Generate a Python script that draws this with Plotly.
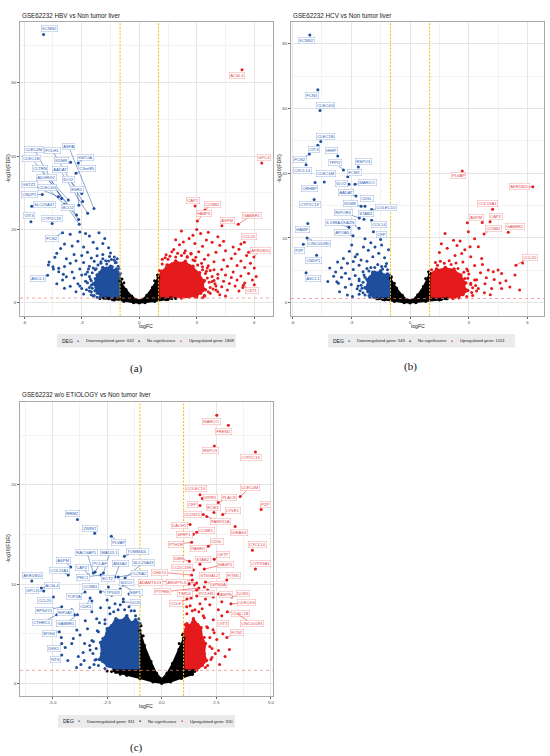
import math
import plotly.graph_objects as go

W, H = 550, 756
FONT = "Liberation Sans, Arial, sans-serif"
LFC_CUT = 1.0
FDR_CUT = 0.05

BLUE = "#1f4e9c"
RED = "#e41a1c"
BLACK = "#000000"

# ---------------- (a) GSE62232 HBV vs Non tumor liver ----------------
a_title = "GSE62232 HBV vs Non tumor liver"
a_n_down, a_n_up = 632, 1808
a_xticks = [-6, -3, 0, 3, 6]
a_xticktext = ["-6", "-3", "0", "3", "6"]
a_yticks = [0, 20, 40, 60]

a_down_pts = [(-3.1, 19.3), (-2.8, 18.9), (-2.6, 18.2), (-2.1, 19.1), (-1.8, 17.5), (-1.9, 16.2),
              (-3.6, 18.7), (-3.9, 16.0), (-4.1, 14.8), (-4.3, 13.5), (-3.5, 15.5), (-3.2, 16.8),
              (-2.9, 15.2), (-2.4, 16.5), (-2.2, 14.8), (-1.6, 15.0), (-1.5, 13.6), (-2.7, 13.8),
              (-3.0, 12.9), (-3.4, 13.2), (-3.8, 12.0), (-4.5, 9.8), (-4.2, 8.5), (-3.9, 9.9),
              (-3.6, 10.8), (-3.3, 11.5), (-2.9, 11.0), (-2.5, 12.2), (-2.2, 12.8), (-1.9, 13.2),
              (-1.3, 12.5), (-1.2, 11.0), (-2.6, 10.0), (-3.1, 9.2), (-3.5, 8.4), (-3.8, 7.1),
              (-4.0, 6.2), (-3.4, 6.8), (-3.0, 7.6), (-2.7, 8.4), (-2.4, 9.5), (-2.8, 5.9),
              (-3.2, 5.2), (-3.6, 4.5), (-2.5, 4.8), (-2.6, 3.2), (-3.0, 3.9), (-2.2, 2.6),
              (-2.0, 2.0), (-1.9, 1.6), (-2.4, 1.9), (-1.4, 1.5), (-3.3, 3.0), (-4.74, 10.3),
              (-4.48, 9.2), (-4.7, 11.1), (-3.96, 7.8), (-4.4, 12.4), (-2.3, 6.6), (-2.0, 7.8),
              (-1.7, 10.6), (-1.4, 9.8), (-3.9, 4.0), (-4.3, 5.2), (-4.2, 9.4), (-2.5, 6.0),
              (-2.45, 4.0), (-2.3, 9.0), (-2.0, 10.8), (-1.6, 11.4), (-1.1, 10.0), (-2.6, 7.2),
              (-2.5, 2.2), (-1.8, 1.5),
              (-2.55, 6.5), (-2.6, 4.2), (-2.5, 3.0), (-2.35, 2.0), (-2.2, 1.5), (-2.45, 8.2),
              (-2.25, 9.3), (-2.0, 11.2), (-1.75, 11.5), (-1.45, 11.8), (-1.25, 10.9), (-1.05, 9.3),
              (-2.7, 5.5), (-2.75, 3.6), (-2.8, 7.8), (-2.15, 10.3), (-1.9, 12.0), (-1.15, 12.0),
              (-2.9, 2.4), (-3.1, 4.6), (-2.65, 9.2), (-2.35, 11.3), (-1.55, 12.6), (-2.05, 1.6),
              (-1.3, 11.6)]
a_up_pts = [(2.2, 19.6), (3.0, 20.0), (3.2, 18.9), (4.1, 18.0), (3.5, 17.1), (4.9, 15.2), (4.2, 15.7),
            (5.0, 13.4), (5.6, 12.9), (6.0, 9.5), (5.9, 6.2), (5.1, 6.2), (4.7, 5.3), (4.4, 5.9),
            (2.6, 17.5), (2.9, 16.2), (3.8, 16.5), (3.3, 15.4), (4.5, 14.2), (4.0, 13.8), (3.6, 13.0),
            (4.8, 12.1), (5.3, 11.4), (4.4, 11.7), (3.9, 11.2), (5.1, 10.2), (4.6, 10.0), (5.5, 9.6),
            (4.3, 9.1), (4.9, 8.4), (5.7, 8.0), (5.3, 7.3), (4.5, 7.6), (4.1, 6.7), (4.8, 6.9),
            (5.5, 5.4), (5.0, 4.6), (4.3, 4.4), (4.6, 3.5), (5.2, 3.2), (4.0, 3.5), (3.7, 2.6),
            (4.2, 2.2), (3.4, 2.1), (4.5, 1.9), (2.9, 1.6), (1.5, 1.6), (1.8, 14.5), (2.1, 15.8),
            (2.4, 14.2), (1.4, 13.1), (1.2, 11.9), (1.6, 12.7), (2.7, 13.3), (3.1, 13.9), (3.4, 11.9),
            (3.6, 10.1), (3.9, 9.0), (4.1, 7.8), (3.8, 5.8), (4.0, 4.6), (3.5, 8.6), (3.3, 9.8),
            (2.9, 11.5), (2.5, 12.4), (2.0, 13.5), (5.8, 10.8), (6.1, 7.2), (5.4, 4.2), (6.0, 4.9),
            (1.9, 17.2), (2.3, 16.6), (2.8, 18.4), (3.6, 19.2), (4.4, 16.8), (5.2, 14.6), (5.7, 13.8),
            (5.3, 16.0),
            (3.6, 3.0), (3.7, 4.2), (3.65, 5.6), (3.55, 6.8), (3.45, 8.0), (3.3, 9.0), (3.05, 10.3),
            (2.8, 11.7), (2.5, 12.6), (2.2, 12.9), (1.9, 12.5), (1.5, 11.9), (1.2, 10.6), (1.05, 8.8),
            (3.8, 7.2), (3.9, 6.1), (3.85, 3.8), (3.4, 1.8), (3.0, 1.5), (2.7, 13.5), (2.35, 13.6),
            (1.7, 13.9), (3.25, 10.8), (3.55, 9.5), (3.95, 5.2), (4.1, 3.0), (3.3, 1.4), (1.35, 12.3),
            (2.95, 12.4), (3.7, 8.8)]
a_ns_pts = [(-1.6, 1.1), (-2.05, 1.2), (1.7, 1.2), (1.5, 0.9), (-1.3, 0.8), (-0.9, 6.5),
            (0.95, 7.6), (0.8, 6.0), (-0.8, 5.5), (-1.85, 1.25), (1.9, 1.2)]
# outlines of the solid, over-plotted clouds
a_down_core = [(-1.0, 1.35), (-1.0, 8.0), (-1.2, 9.2), (-1.35, 8.8), (-1.5, 10.0), (-1.7, 9.4),
               (-1.9, 9.6), (-2.05, 8.3), (-2.2, 7.6), (-2.25, 6.0), (-2.4, 5.2), (-2.25, 4.2),
               (-2.3, 3.3), (-2.1, 2.6), (-2.0, 1.8), (-1.7, 1.35)]
a_up_core = [(1.0, 1.35), (1.0, 7.0), (1.15, 8.6), (1.3, 8.9), (1.45, 10.3), (1.7, 10.6), (1.9, 11.4),
             (2.15, 10.8), (2.4, 11.3), (2.6, 10.2), (2.8, 10.0), (2.95, 8.6), (3.15, 8.2), (3.2, 6.8),
             (3.4, 6.0), (3.3, 4.6), (3.45, 3.6), (3.2, 2.6), (3.0, 2.0), (2.6, 1.6), (2.2, 1.35)]
a_ns_core = [(-1.0, 6.0), (-0.7, 3.6), (-0.4, 1.8), (-0.15, 0.8), (0.0, 0.6), (0.15, 0.8), (0.4, 2.0),
             (0.7, 4.2), (1.0, 7.0), (1.0, 1.3), (1.65, 1.3), (1.4, 0.9), (0.8, 0.45), (0.3, 0.1),
             (0.0, 0.0), (-0.3, 0.1), (-0.8, 0.45), (-1.4, 0.9), (-1.75, 1.3), (-1.0, 1.3)]
a_down_genes = {"KCNN2": (-4.99, 73.1), "CLEC4M": (-4.05, 28.4), "FOLH1": (-2.95, 27.6),
                "ASPA": (-2.36, 25.7), "KMT2A": (-3.18, 38.1), "KDM8": (-3.58, 38.3),
                "CLEC1B": (-3.70, 28.0), "C3orf85": (-3.30, 35.3), "CLTRN": (-3.27, 23.9),
                "AADAT": (-2.69, 24.4), "ADGRG7": (-3.16, 22.7), "IDO2": (-3.00, 29.8),
                "GSTZ1": (-4.22, 28.9), "CLEC4G": (-3.90, 26.8), "ESR1": (-3.15, 26.6),
                "CNDP1": (-5.06, 29.5), "SLC25A47": (-5.61, 26.3), "BCO2": (-3.13, 21.4),
                "OIT3": (-5.65, 22.1), "CYP2C19": (-4.54, 21.6), "FCN2": (-4.00, 19.1),
                "ASCL1": (-4.78, 7.5)}
a_up_genes = {"ACSL4": (5.36, 63.5), "GPC3": (6.39, 38.1), "CAP2": (2.91, 26.4), "CCNB1": (3.43, 25.3),
              "FABP5": (3.03, 22.3), "ASPM": (4.31, 21.0), "GABBR1": (5.16, 21.4), "CCL20": (5.48, 16.5),
              "AKR1B10": (5.98, 12.5), "CST1": (5.43, 4.8)}

# ---------------- (b) GSE62232 HCV vs Non tumor liver ----------------
b_title = "GSE62232 HCV vs Non tumor liver"
b_n_down, b_n_up = 545, 1113
b_xticks = [-6, -3, 0, 3, 6]
b_xticktext = ["-6", "-3", "0", "3", "6"]
b_yticks = [0, 20, 40, 60, 80]

b_down_pts = [(-3.4, 13.7), (-3.74, 6.5), (-3.66, 6.0), (-2.94, 1.9), (-2.98, 17.8), (-2.38, 17.2),
              (-2.13, 16.2), (-1.79, 17.2), (-1.45, 17.8), (-3.1, 15.9), (-2.7, 15.0), (-2.5, 13.2),
              (-3.2, 12.2), (-3.5, 10.8), (-3.8, 9.5), (-3.3, 9.1), (-2.9, 10.3), (-2.6, 11.6),
              (-2.2, 12.8), (-1.9, 14.2), (-1.6, 15.3), (-1.3, 13.9), (-1.2, 12.1), (-2.0, 10.9),
              (-2.4, 9.6), (-2.8, 8.4), (-3.1, 7.4), (-3.5, 7.9), (-3.9, 8.2), (-3.0, 5.6),
              (-2.6, 6.8), (-2.3, 7.9), (-2.7, 4.3), (-3.3, 4.8), (-3.6, 3.4), (-2.4, 3.1),
              (-2.1, 2.2), (-1.6, 1.6), (-2.5, 5.4), (-4.1, 10.7), (-3.7, 12.6), (-2.8, 14.2),
              (-2.0, 18.5), (-1.5, 19.5), (-2.3, 19.8), (-4.2, 6.6), (-1.8, 9.5), (-1.4, 10.4),
              (-1.1, 16.4), (-2.6, 2.6), (-3.2, 2.4), (-2.9, 12.7),
              (-2.45, 4.5), (-2.4, 6.3), (-2.35, 8.6), (-2.1, 9.8), (-1.8, 10.9), (-1.45, 11.2),
              (-1.15, 10.2), (-1.05, 8.6), (-2.3, 2.4), (-2.05, 1.6), (-2.6, 7.3), (-2.55, 3.7),
              (-1.65, 11.8), (-2.2, 10.6), (-1.25, 11.3), (-2.65, 5.2)]
b_up_pts = [(1.79, 21.4), (2.22, 19.3), (2.56, 19.1), (2.93, 24.7), (2.98, 21.9), (3.07, 17.3),
            (3.49, 17.3), (2.64, 15.2), (3.66, 13.7), (4.0, 10.1), (4.25, 9.6), (4.5, 10.1),
            (4.68, 9.0), (5.36, 8.6), (5.1, 4.9), (4.68, 4.4), (4.17, 4.4), (3.83, 5.9), (3.49, 4.4),
            (1.5, 15.5), (1.9, 16.8), (2.3, 14.6), (2.0, 13.0), (2.7, 12.6), (3.1, 14.2), (3.3, 11.5),
            (2.9, 10.4), (3.6, 9.3), (3.9, 7.7), (3.4, 7.1), (3.7, 11.8), (4.3, 7.2), (4.6, 6.1),
            (3.1, 5.6), (2.7, 2.5), (3.2, 2.2), (3.8, 3.1), (4.1, 2.5), (1.3, 12.4), (1.6, 18.2),
            (2.4, 17.7), (2.8, 16.4), (3.3, 19.8), (2.5, 8.7), (2.8, 7.5), (3.0, 8.9), (1.8, 2.0),
            (2.3, 1.6), (4.9, 6.8), (5.6, 3.9), (5.75, 12.3),
            (3.15, 3.2), (3.2, 4.6), (3.1, 6.0), (2.95, 7.6), (2.75, 9.4), (2.45, 10.6), (2.1, 11.8),
            (1.75, 12.2), (1.4, 11.6), (1.1, 10.2), (2.9, 1.9), (2.5, 1.5), (3.35, 5.3), (3.3, 7.0),
            (2.95, 9.9), (2.35, 12.3), (1.55, 12.8), (3.4, 3.6)]
b_ns_pts = [(-1.7, 1.2), (1.9, 1.2), (1.6, 1.0), (-1.4, 1.0), (-0.95, 8.0), (0.95, 9.6), (0.8, 7.5),
            (-0.8, 6.0)]
b_down_core = [(-1.0, 1.35), (-1.0, 7.5), (-1.15, 8.9), (-1.35, 8.6), (-1.5, 9.9), (-1.7, 9.2),
               (-1.9, 9.4), (-2.05, 7.9), (-2.2, 7.2), (-2.15, 5.6), (-2.3, 4.6), (-2.15, 3.4),
               (-2.0, 2.4), (-1.85, 1.7), (-1.6, 1.35)]
b_up_core = [(1.0, 1.35), (1.0, 9.0), (1.2, 9.3), (1.35, 10.4), (1.6, 10.1), (1.8, 10.9), (2.05, 10.2),
             (2.25, 10.4), (2.45, 8.9), (2.6, 8.6), (2.7, 7.0), (2.85, 6.1), (2.75, 4.9), (2.95, 3.8),
             (2.7, 2.6), (2.5, 2.0), (2.2, 1.35)]
b_ns_core = [(-1.0, 7.5), (-0.7, 4.5), (-0.4, 2.2), (-0.15, 0.9), (0.0, 0.6), (0.15, 0.9), (0.4, 2.4),
             (0.7, 5.0), (1.0, 9.0), (1.0, 1.3), (1.8, 1.3), (1.5, 0.9), (0.8, 0.45), (0.3, 0.1),
             (0.0, 0.0), (-0.3, 0.1), (-0.8, 0.45), (-1.3, 0.9), (-1.6, 1.3), (-1.0, 1.3)]
b_down_genes = {"KCNN2": (-5.12, 82.7), "FCN3": (-4.71, 65.8), "CLEC4G": (-4.60, 59.4),
                "CLEC1B": (-4.56, 49.8), "OIT3": (-4.71, 48.6), "HHIP": (-3.69, 45.3),
                "FCN2": (-5.14, 45.9), "TFPI2": (-3.40, 41.0), "RSPO3": (-2.64, 41.9),
                "CXCL14": (-5.31, 42.6), "CLEC4M": (-4.38, 37.3), "ECM1": (-3.18, 38.9),
                "CRHBP": (-4.85, 37.1), "IDO2": (-3.12, 36.6), "MARCO": (-2.81, 36.6),
                "AADAT": (-2.76, 33.0), "CYP2C19": (-4.90, 31.9), "KDM8": (-2.50, 29.8),
                "CD5L": (-2.30, 29.8), "COLEC10": (-1.96, 28.8), "RIPOR3": (-2.59, 26.2),
                "STAB2": (-2.35, 25.8), "IL13RA2": (-3.12, 23.3), "KAZN": (-2.60, 23.0),
                "COL14": (-1.96, 25.5), "HAMP": (-5.22, 24.5), "APOA5": (-2.91, 20.7),
                "CFP": (-1.87, 21.9), "LINC01090": (-5.26, 20.0), "PZP": (-5.45, 18.1),
                "CNDP1": (-4.77, 14.7), "ASCL1": (-5.31, 9.3)}
b_up_genes = {"PLVAP": (2.67, 40.7), "AKR1B10": (6.27, 35.8), "COL15A1": (4.22, 28.9),
              "ASPM": (3.69, 24.8), "CAP2": (4.09, 25.0), "CCNB2": (3.78, 21.2),
              "GABBR1": (5.02, 21.8), "CCL20": (5.41, 11.6)}

# ---------------- (c) GSE62232 w/o ETIOLOGY vs Non tumor liver ----------------
c_title = "GSE62232 w/o ETIOLOGY vs Non tumor liver"
c_n_down, c_n_up = 911, 320
c_xticks = [-5.0, -2.5, 0.0, 2.5, 5.0]
c_xticktext = ["-5.0", "-2.5", "0.0", "2.5", "5.0"]
c_yticks = [0, 10, 20]

c_down_pts = [(-3.89, 5.37), (-3.74, 4.87), (-4.05, 4.5), (-4.12, 4.0), (-4.42, 3.6), (-3.7, 1.9),
              (-3.82, 2.7), (-3.53, 4.0), (-2.98, 6.5), (-2.37, 7.0), (-2.14, 8.0), (-1.76, 8.5),
              (-2.14, 6.2), (-2.6, 6.0), (-2.9, 5.2), (-3.13, 4.2), (-3.28, 3.35), (-3.06, 2.35),
              (-4.6, 4.6), (-4.3, 2.3), (-3.5, 6.3), (-3.2, 7.2), (-2.8, 7.6), (-2.5, 8.4),
              (-1.9, 9.5), (-1.5, 9.0), (-1.3, 8.2), (-2.0, 7.4), (-3.4, 5.5), (-2.7, 4.5),
              (-3.0, 3.5), (-2.6, 2.8), (-2.9, 1.8), (-3.3, 1.6), (-2.4, 1.7), (-3.6, 3.1),
              (-4.0, 6.9), (-4.3, 6.0), (-3.2, 8.3), (-2.3, 8.9), (-1.6, 10.0), (-2.8, 9.2),
              (-3.6, 7.6), (-1.4, 7.3), (-1.2, 6.8), (-2.7, 2.2), (-3.55, 2.3), (-3.9, 1.6),
              (-3.15, 3.0), (-3.2, 4.3), (-2.95, 5.3), (-2.6, 6.4), (-2.2, 7.2), (-1.7, 7.4),
              (-1.25, 7.3), (-1.05, 6.5), (-3.1, 1.9), (-2.6, 1.5), (-2.85, 6.1), (-3.3, 3.8),
              (-1.9, 7.9), (-1.5, 7.7), (-2.4, 7.6), (-3.0, 2.4)]
c_up_pts = [(1.14, 7.7), (1.75, 8.0), (2.36, 8.7), (2.59, 7.4), (2.36, 6.4), (2.06, 5.7), (2.52, 4.4),
            (2.9, 2.7), (1.75, 3.0), (2.2, 3.7), (1.9, 2.3), (1.45, 1.7), (1.52, 7.4), (1.9, 6.8),
            (2.2, 7.9), (1.3, 9.1), (1.6, 8.8), (2.0, 8.5), (2.7, 6.2), (2.4, 5.1), (1.95, 4.6),
            (2.3, 2.6), (2.6, 3.3), (2.1, 1.8), (1.7, 1.6), (2.8, 5.0), (1.25, 10.0), (1.5, 9.9),
            (2.1, 9.4), (2.45, 9.8), (1.15, 8.5), (2.75, 8.2), (3.1, 3.4), (2.65, 1.9),
            (2.25, 2.4), (2.3, 3.5), (2.2, 4.6), (2.1, 5.6), (1.95, 6.6), (1.7, 7.2), (1.4, 7.3),
            (1.15, 7.0), (1.05, 5.9), (2.0, 1.6), (1.85, 7.5), (2.35, 5.4), (1.3, 7.8), (2.45, 3.0)]
c_ns_pts = [(-2.3, 1.2), (-1.9, 0.9), (1.5, 1.2), (1.3, 0.9), (-0.95, 5.8), (0.95, 4.9), (-0.85, 4.8),
            (0.8, 4.0), (-2.5, 1.25)]
c_down_core = [(-1.0, 1.35), (-1.0, 6.0), (-1.2, 6.4), (-1.4, 6.1), (-1.6, 6.8), (-1.85, 6.3),
               (-2.1, 6.5), (-2.3, 5.8), (-2.5, 5.5), (-2.6, 4.6), (-2.8, 4.1), (-2.75, 3.0),
               (-2.85, 2.4), (-2.5, 1.8), (-2.1, 1.35)]
c_up_core = [(1.0, 1.35), (1.0, 5.0), (1.15, 6.0), (1.3, 5.8), (1.45, 6.5), (1.65, 5.9), (1.8, 5.6),
             (1.85, 4.6), (2.0, 4.0), (1.95, 3.0), (2.05, 2.3), (1.85, 1.8), (1.6, 1.35)]
c_ns_core = [(-1.0, 5.3), (-0.8, 3.8), (-0.5, 2.2), (-0.25, 1.0), (0.0, 0.4), (0.25, 1.0), (0.5, 2.0),
             (0.8, 3.4), (1.0, 4.5), (1.0, 1.3), (1.45, 1.3), (1.4, 0.9), (0.9, 0.5), (0.4, 0.15),
             (0.0, 0.0), (-0.4, 0.15), (-1.0, 0.5), (-1.6, 0.8), (-2.1, 1.1), (-2.2, 1.3), (-1.0, 1.3)]
c_down_genes = {"RRM2": (-3.86, 16.5), "ZWINT": (-3.07, 15.1), "PLVAP": (-2.31, 14.8),
                "RACGAP1": (-3.13, 11.1), "MAD2L1": (-2.67, 11.1), "TOMM40L": (-1.71, 12.8),
                "ASPM": (-4.17, 11.7), "PCLAF": (-3.05, 11.2), "ANXA2": (-2.14, 10.7),
                "SLC25A43": (-1.68, 10.6), "CAP2": (-3.35, 10.9), "COL15A1": (-4.28, 10.9),
                "CCNA2": (-1.99, 10.7), "AKR1B10": (-5.95, 10.3), "PRC1": (-2.78, 10.9),
                "ECT2": (-2.40, 10.4), "SUCO": (-1.60, 10.0), "ACSL4": (-5.51, 9.6),
                "GPC3": (-5.40, 9.3), "CCNB1": (-2.29, 8.9), "TP53I3": (-2.44, 9.7),
                "EBP1": (-1.79, 9.9), "TOP2A": (-3.51, 9.2), "CCL20": (-4.96, 8.7),
                "DCK": (-1.76, 8.2), "CDK1": (-3.28, 8.6), "RPS4Y1": (-4.58, 7.7),
                "EIF1AY": (-4.12, 7.4), "CTHRC1": (-4.81, 6.9), "GABBR1": (-3.86, 6.9),
                "MYH4": (-4.69, 5.2), "DKK1": (-4.58, 4.0), "NTS": (-4.58, 2.85)}
c_up_genes = {"MARCO": (2.52, 27.0), "FREM2": (3.05, 26.0), "RSPO3": (2.41, 23.9),
              "CYP2C19": (4.29, 23.3), "COLEC10": (1.75, 19.0), "CLEC4M": (3.59, 18.8),
              "VIPR1": (1.86, 18.6), "PLAC8": (2.59, 18.2), "CFP": (1.75, 17.9), "PZP": (4.55, 17.5),
              "ECM1": (2.39, 17.2), "LYVE1": (2.79, 17.0), "CLDN10": (1.90, 17.0),
              "FAM151A": (2.06, 16.8), "DACH1": (1.30, 16.0), "CCBE1": (1.60, 15.2),
              "DIRAS3": (3.36, 15.8), "SFRP1": (1.45, 15.0), "CD5L": (2.13, 13.8),
              "PTH1R": (1.37, 14.2), "CXCL14": (4.15, 13.4), "PAMR1": (1.95, 13.5),
              "CETP": (2.40, 12.5), "DBH": (1.26, 12.3), "STAB2": (1.75, 12.0), "MASP1": (1.95, 11.5),
              "CYP26A1": (4.29, 11.5), "CCDC198": (1.45, 11.4), "CHST4": (1.37, 10.9),
              "ST6GAL2": (1.85, 11.0), "FITM1": (2.98, 10.4), "ADAMTS13": (1.40, 10.4),
              "ANGPTL6": (1.60, 10.1), "GPM6A": (2.00, 10.2), "PTPRB": (1.70, 9.6),
              "TIMD4": (1.60, 9.4), "PCDH9": (1.95, 9.7), "ASPN": (2.60, 9.0), "DOK5": (3.20, 8.7),
              "CCL8": (1.35, 8.6), "CLEC4G": (3.17, 8.0), "CLEC1B": (3.00, 7.2), "OIT3": (2.75, 6.8),
              "LINC01093": (3.45, 7.0), "FCN2": (2.98, 4.6)}

# ---------------- label placement (repelled boxes, data units) ----------------
a_labels = {"KCNN2": (-4.69, 74.6), "CLEC4M": (-5.48, 41.9), "FOLH1": (-4.54, 41.6), "ASPA": (-3.68, 42.5),
            "KMT2A": (-2.78, 39.7), "KDM8": (-4.03, 38.8), "CLEC1B": (-5.61, 39.2), "C3orf85": (-2.71, 36.6),
            "CLTRN": (-5.2, 36.6), "AADAT": (-4.14, 36.2), "ADGRG7": (-4.83, 34.1), "IDO2": (-3.68, 33.7),
            "GSTZ1": (-5.74, 32.3), "CLEC4G": (-4.81, 31.3), "ESR1": (-3.25, 30.9), "CNDP1": (-5.74, 29.5),
            "SLC25A47": (-4.92, 26.9), "BCO2": (-3.74, 26.0), "OIT3": (-5.75, 23.8), "CYP2C19": (-4.54, 23.0),
            "FCN2": (-4.57, 17.4), "ASCL1": (-5.28, 6.6),
            "ACSL4": (5.11, 62.0), "GPC3": (6.52, 39.6), "CAP2": (2.79, 27.9), "CCNB1": (3.81, 26.9),
            "FABP5": (3.38, 24.3), "ASPM": (4.61, 22.5), "GABBR1": (5.86, 23.8), "CCL20": (5.72, 18.0),
            "AKR1B10": (6.30, 14.3), "CST1": (5.89, 3.4)}
b_labels = {"KCNN2": (-5.31, 80.9), "FCN3": (-4.99, 64.1), "CLEC4G": (-4.33, 61.0), "CLEC1B": (-4.33, 51.4),
            "OIT3": (-4.9, 47.3), "HHIP": (-4.03, 46.9), "FCN2": (-5.62, 44.2), "TFPI2": (-3.81, 43.2),
            "RSPO3": (-2.38, 43.6), "CXCL14": (-5.48, 40.8), "CLEC4M": (-4.31, 40.0), "ECM1": (-2.84, 40.3),
            "CRHBP": (-5.14, 35.3), "IDO2": (-3.52, 36.8), "MARCO": (-2.16, 37.1), "AADAT": (-3.28, 33.9),
            "CYP2C19": (-5.12, 30.3), "KDM8": (-3.05, 30.7), "CD5L": (-2.21, 32.3), "COLEC10": (-1.23, 29.3),
            "RIPOR3": (-3.41, 27.8), "STAB2": (-2.25, 27.5), "IL13RA2": (-3.88, 24.7), "KAZN": (-3.12, 24.7),
            "COL14": (-1.58, 24.3), "HAMP": (-5.5, 22.7), "APOA5": (-3.44, 21.6), "CFP": (-1.48, 21.2),
            "LINC01090": (-4.65, 18.3), "PZP": (-5.67, 16.2), "CNDP1": (-4.94, 13.2), "ASCL1": (-4.97, 7.5),
            "PLVAP": (2.47, 39.2), "AKR1B10": (5.58, 35.8), "COL15A1": (3.97, 30.7), "ASPM": (3.42, 26.2),
            "CAP2": (4.38, 26.6), "CCNB2": (4.24, 22.9), "GABBR1": (5.36, 23.4), "CCL20": (6.11, 14.0)}
c_labels = {"RRM2": (-4.08, 17.1), "ZWINT": (-3.28, 15.6), "PLVAP": (-1.96, 14.2), "RACGAP1": (-3.43, 13.2),
            "MAD2L1": (-2.37, 13.2), "TOMM40L": (-1.10, 13.3), "ASPM": (-4.5, 12.4), "PCLAF": (-2.83, 12.1),
            "ANXA2": (-1.91, 12.1), "SLC25A43": (-0.82, 12.2), "CAP2": (-3.63, 11.7), "COL15A1": (-4.7, 11.4),
            "CCNA2": (-1.03, 11.1), "AKR1B10": (-5.91, 10.9), "PRC1": (-3.59, 10.7), "ECT2": (-2.44, 10.6),
            "SUCO": (-1.63, 10.2), "ACSL4": (-5.01, 9.8), "GPC3": (-5.95, 9.3), "CCNB1": (-3.24, 9.7),
            "TP53I3": (-2.22, 9.1), "EBP1": (-1.18, 9.1), "TOP2A": (-4.0, 8.7), "CCL20": (-5.33, 8.3),
            "DCK": (-1.22, 8.1), "CDK1": (-3.47, 7.7), "RPS4Y1": (-5.39, 7.3), "EIF1AY": (-4.4, 7.1),
            "CTHRC1": (-5.49, 6.1), "GABBR1": (-4.4, 6.0), "MYH4": (-5.15, 5.0), "DKK1": (-4.92, 3.5),
            "NTS": (-4.85, 2.4),
            "MARCO": (2.30, 26.4), "FREM2": (2.85, 25.4), "RSPO3": (2.21, 23.4), "CYP2C19": (4.07, 22.7),
            "COLEC10": (1.57, 19.6), "CLEC4M": (4.04, 19.7), "VIPR1": (2.21, 18.7), "PLAC8": (3.10, 18.7),
            "CFP": (1.40, 18.0), "PZP": (4.73, 18.0), "ECM1": (2.36, 17.7), "LYVE1": (3.28, 17.4),
            "CLDN10": (1.40, 17.0), "FAM151A": (2.67, 16.3), "DACH1": (0.79, 15.9), "CCBE1": (2.03, 15.4),
            "DIRAS3": (3.55, 15.2), "SFRP1": (1.04, 15.0), "CD5L": (2.52, 14.3), "PTH1R": (0.65, 14.0),
            "CXCL14": (4.40, 14.0), "PAMR1": (1.68, 13.6), "CETP": (2.79, 13.0), "DBH": (0.76, 12.6),
            "STAB2": (1.90, 12.5), "MASP1": (2.91, 12.0), "CYP26A1": (4.50, 12.1), "CCDC198": (0.92, 11.7),
            "CHST4": (-0.12, 11.2), "ST6GAL2": (2.18, 10.9), "FITM1": (3.28, 10.9), "ADAMTS13": (-0.50, 10.2),
            "ANGPTL6": (0.71, 10.2), "GPM6A": (2.59, 9.9), "PTPRB": (0.05, 9.2), "TIMD4": (1.07, 9.0),
            "PCDH9": (2.03, 9.0), "ASPN": (2.93, 8.9), "DOK5": (3.71, 9.0), "CCL8": (0.64, 8.0),
            "CLEC4G": (3.89, 8.1), "CLEC1B": (3.59, 7.0), "OIT3": (2.79, 6.0), "LINC01093": (4.15, 6.0),
            "FCN2": (3.43, 5.1)}

# ---------------- panel layout (pixels of the 550x756 page) ----------------
panels = [
    dict(title=a_title, n=(a_n_down, a_n_up), xt=(a_xticks, a_xticktext), yt=a_yticks,
         pts=(a_down_pts, a_up_pts, a_ns_pts), cores=(a_down_core, a_up_core, a_ns_core),
         genes=(a_down_genes, a_up_genes), labels=a_labels,
         box=(20, 22, 272.7, 315.7), xr=(-6.22, 6.96), yr=(-3.5, 76.5), title_y=15,
         leg=(57, 334, 236, 347.5), tag="(a)", tag_xy=(136, 368)),
    dict(title=b_title, n=(b_n_down, b_n_up), xt=(b_xticks, b_xticktext), yt=b_yticks,
         pts=(b_down_pts, b_up_pts, b_ns_pts), cores=(b_down_core, b_up_core, b_ns_core),
         genes=(b_down_genes, b_up_genes), labels=b_labels,
         box=(291, 22, 544.3, 315.7), xr=(-6.08, 6.86), yr=(-4.0, 86.7), title_y=15,
         leg=(328, 334, 515, 347.5), tag="(b)", tag_xy=(410, 366)),
    dict(title=c_title, n=(c_n_down, c_n_up), xt=(c_xticks, c_xticktext), yt=c_yticks,
         pts=(c_down_pts, c_up_pts, c_ns_pts), cores=(c_down_core, c_up_core, c_ns_core),
         genes=(c_down_genes, c_up_genes), labels=c_labels,
         box=(20, 401.7, 272.7, 696), xr=(-6.49, 5.08), yr=(-1.28, 28.36), title_y=395,
         leg=(58, 715, 235, 727.7), tag="(c)", tag_xy=(136, 747)),
]


def fx(px):
    return px / W


def fy(py):
    return 1 - py / H


def minors(ticks, lo, hi):
    step = ticks[1] - ticks[0]
    vals = [t + step / 2 for t in [ticks[0] - step] + list(ticks)]
    return [v for v in vals if lo < v < hi]


fig = go.Figure()
shapes = []
annos = []

for i, P in enumerate(panels, start=1):
    sfx = "" if i == 1 else str(i)
    xa, ya = "x" + sfx, "y" + sfx
    x0, y0, x1, y1 = P["box"]
    ppx = (x1 - x0) / (P["xr"][1] - P["xr"][0])
    ppy = (y1 - y0) / (P["yr"][1] - P["yr"][0])

    # dense clouds
    for core, col in zip(P["cores"], (BLUE, RED, BLACK)):
        fig.add_trace(go.Scatter(
            x=[p[0] for p in core], y=[p[1] for p in core], mode="lines+markers", fill="toself",
            fillcolor=col, line=dict(color=col, width=1.6), marker=dict(color=col, size=3.5),
            hoverinfo="skip", showlegend=False, xaxis=xa, yaxis=ya))
    # single genes
    down_g, up_g = P["genes"]
    groups = (P["pts"][0] + list(down_g.values()), P["pts"][1] + list(up_g.values()), P["pts"][2])
    for pts, col in zip(groups, (BLUE, RED, BLACK)):
        fig.add_trace(go.Scatter(
            x=[p[0] for p in pts], y=[p[1] for p in pts], mode="markers",
            marker=dict(color=col, size=3, line=dict(width=0)), hoverinfo="skip",
            showlegend=False, xaxis=xa, yaxis=ya))

    ax_common = dict(showline=True, mirror=True, linecolor="#a8a8a8", linewidth=0.9,
                     showgrid=True, gridcolor="#e6e6e6", gridwidth=0.5, zeroline=False,
                     automargin=False, ticks="outside", ticklen=2, tickwidth=0.5,
                     tickcolor="#666666", tickfont=dict(size=4.4, color="#4d4d4d", family=FONT))
    xt, xtt = P["xt"]
    fig.layout["xaxis" + sfx] = dict(
        ax_common, domain=[fx(x0), fx(x1)], range=list(P["xr"]), anchor=ya,
        tickmode="array", tickvals=xt, ticktext=xtt,
        minor=dict(tickvals=minors(xt, *P["xr"]), showgrid=True, gridcolor="#f3f3f3", gridwidth=0.4))
    fig.layout["yaxis" + sfx] = dict(
        ax_common, domain=[fy(y1), fy(y0)], range=list(P["yr"]), anchor=xa,
        tickmode="array", tickvals=P["yt"], ticktext=[str(v) for v in P["yt"]],
        minor=dict(tickvals=minors(P["yt"], *P["yr"]), showgrid=True, gridcolor="#f3f3f3", gridwidth=0.4))

    # cut-off lines
    for v in (-LFC_CUT, LFC_CUT):
        shapes.append(dict(type="line", xref=xa, yref=ya + " domain", x0=v, x1=v, y0=0, y1=1,
                           line=dict(color="#f2bd00", width=1.0, dash="2px,1.5px")))
    hy = -math.log10(FDR_CUT)
    shapes.append(dict(type="line", xref=xa + " domain", yref=ya, x0=0, x1=1, y0=hy, y1=hy,
                       line=dict(color="#f08080", width=0.7, dash="dot")))

    # gene labels
    for genes, tc, bc, pc in ((down_g, "#2f5fb3", "#9fb6e3", BLUE), (up_g, "#e0484c", "#f4a4a4", RED)):
        for g, (gx, gy) in genes.items():
            lx, ly = P["labels"][g]
            common = dict(text=g, xref=xa, yref=ya, font=dict(size=4.2, color=tc, family=FONT),
                          bgcolor="white", bordercolor=bc, borderwidth=0.5, borderpad=0.7)
            if math.hypot((lx - gx) * ppx, (ly - gy) * ppy) > 9:
                annos.append(dict(common, x=gx, y=gy, ax=lx, ay=ly, axref=xa, ayref=ya,
                                  showarrow=True, arrowhead=0, arrowwidth=0.5, arrowcolor=pc,
                                  standoff=0))
            else:
                annos.append(dict(common, x=lx, y=ly, showarrow=False))

    # titles
    annos.append(dict(text=P["title"], xref="paper", yref="paper", x=fx(x0), y=fy(P["title_y"]),
                      xanchor="left", yanchor="middle", showarrow=False,
                      font=dict(size=6.3, color="#222222", family=FONT)))
    annos.append(dict(text="logFC", xref="paper", yref="paper", x=fx((x0 + x1) / 2), y=fy(y1 + 10),
                      xanchor="center", yanchor="middle", showarrow=False,
                      font=dict(size=5.2, color="#222222", family=FONT)))
    annos.append(dict(text="-log10(FDR)", xref="paper", yref="paper", x=fx(x0 - 12),
                      y=fy((y0 + y1) / 2), textangle=-90, xanchor="center", yanchor="middle",
                      showarrow=False, font=dict(size=5.2, color="#222222", family=FONT)))

    # legend strip
    lx0, ly0, lx1, ly1 = P["leg"]
    lyc = (ly0 + ly1) / 2
    shapes.append(dict(type="rect", xref="paper", yref="paper", x0=fx(lx0), x1=fx(lx1),
                       y0=fy(ly1), y1=fy(ly0), fillcolor="#ebebeb", line=dict(width=0), layer="below"))
    leg_items = [("DEG", lx0 + 3, None, 5.0),
                 ("Downregulated gene: %d" % P["n"][0], lx0 + 27, BLUE, 4.2),
                 ("No significance", lx0 + 88, BLACK, 4.2),
                 ("Upregulated gene: %d" % P["n"][1], lx0 + 130, RED, 4.2)]
    for txt, tx, dc, fs in leg_items:
        annos.append(dict(text=txt, xref="paper", yref="paper", x=fx(tx), y=fy(lyc),
                          xanchor="left", yanchor="middle", showarrow=False,
                          font=dict(size=fs, color="#222222", family=FONT)))
        if dc:
            annos.append(dict(text="\u25cf", xref="paper", yref="paper", x=fx(tx - 6.5), y=fy(lyc),
                              xanchor="center", yanchor="middle", showarrow=False,
                              font=dict(size=3.4, color=dc, family=FONT)))

    annos.append(dict(text=P["tag"], xref="paper", yref="paper", x=fx(P["tag_xy"][0]),
                      y=fy(P["tag_xy"][1]), xanchor="center", yanchor="middle", showarrow=False,
                      font=dict(size=11, color="#111111", family="Liberation Serif, DejaVu Serif, serif")))

fig.update_layout(width=W, height=H, margin=dict(l=0, r=0, t=0, b=0, autoexpand=False),
                  paper_bgcolor="white", plot_bgcolor="white", showlegend=False,
                  shapes=shapes, annotations=annos, font=dict(family=FONT))
# the page body carries a default 8px margin; drop it so the 550x756 figure fills the window
fig.write_html("out.html", config={"displayModeBar": False},
               post_script="document.body.style.margin='0px';")
